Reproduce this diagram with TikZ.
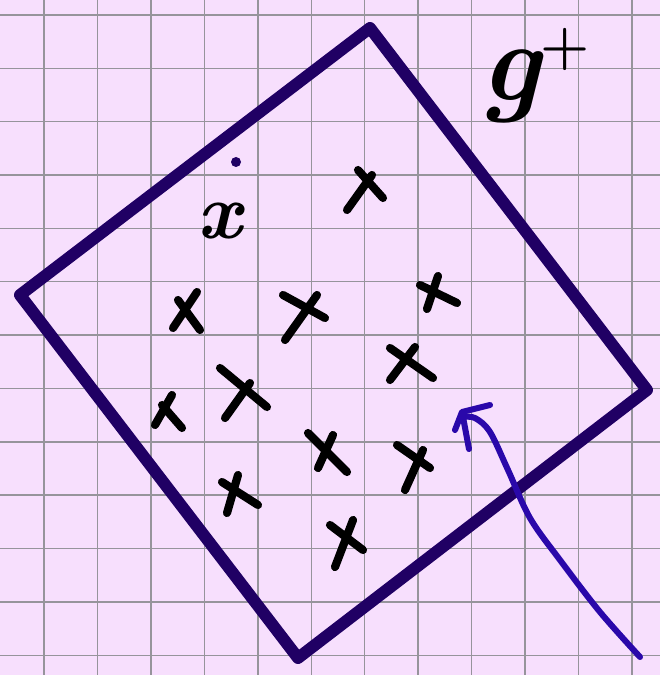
\documentclass[tikz,border=0pt]{standalone}
\definecolor{paperpink}{RGB}{247,223,253}
\definecolor{gridgray}{RGB}{150,148,155}
\definecolor{boxindigo}{RGB}{32,0,100}
\definecolor{penblue}{RGB}{42,8,170}

\begin{document}
\begin{tikzpicture}[x=0.025cm, y=-0.025cm,
    gridline/.style={draw=gridgray, line width=1pt},
    frame/.style={draw=boxindigo, line width=8.5pt, line join=round, line cap=round},
    crossline/.style={draw=black, line width=5.8pt, line cap=round},
    pen/.style={draw=penblue, line width=4.3pt, line cap=round, line join=round},
    handtext/.style={inner sep=0pt, text=black}
]

% Paper
\fill[paperpink] (0,0) rectangle (660,675);
\useasboundingbox (0,0) rectangle (660,675);

% Parameters
\def\cellW{53.45}
\def\cellH{53.35}

% Grid
\foreach \i in {0,...,11} {
    \draw[gridline] ({44+\i*\cellW},0) -- ({44+\i*\cellW},675);
}
\foreach \j in {0,...,12} {
    \draw[gridline] (0,{15+\j*\cellH}) -- (660,{15+\j*\cellH});
}

% Tilted square
\draw[frame] (370,28) -- (647,390) -- (298,658) -- (20,295) -- cycle;

% Sample points (two strokes each)
\foreach \ax/\ay/\bx/\by/\cx/\cy/\dx/\dy in {
    358/170/383/198/372/175/347/210,
    178/300/200/330/197/292/173/328,
    162/405/182/428/172/395/155/425,
    220/368/267/407/250/383/225/418,
    283/295/325/318/317/295/285/340,
    420/285/457/303/438/276/427/309,
    390/348/433/378/415/347/390/380,
    308/433/347/472/333/435/318/468,
    397/445/430/468/423/450/405/490,
    222/482/258/505/238/475/227/513,
    330/525/363/550/353/520/335/567} {
    \draw[crossline] (\ax,\ay) -- (\bx,\by) (\cx,\cy) -- (\dx,\dy);
}

% Labels
\node[handtext, anchor=base west, font=\fontsize{80}{84}\selectfont\bfseries\itshape] (gplus) at (480,101) {g\raisebox{0.33em}{\fontsize{40}{42}\selectfont\bfseries\upshape +}};
\node[handtext, anchor=base, font=\fontsize{56}{60}\selectfont\bfseries\itshape] (xlabel) at (220,238) {x};
\fill[boxindigo] (236,162) circle (5);

% Pointer
\draw[pen] plot[smooth, tension=0.55] coordinates {(640,657) (600,612) (560,560) (530,518) (508,470) (490,432) (475,418) (463,417)};
\draw[pen] (455,430) -- (462,412) -- (490,405);
\draw[pen] (463,417) -- (469,449);

\end{tikzpicture}
\end{document}
